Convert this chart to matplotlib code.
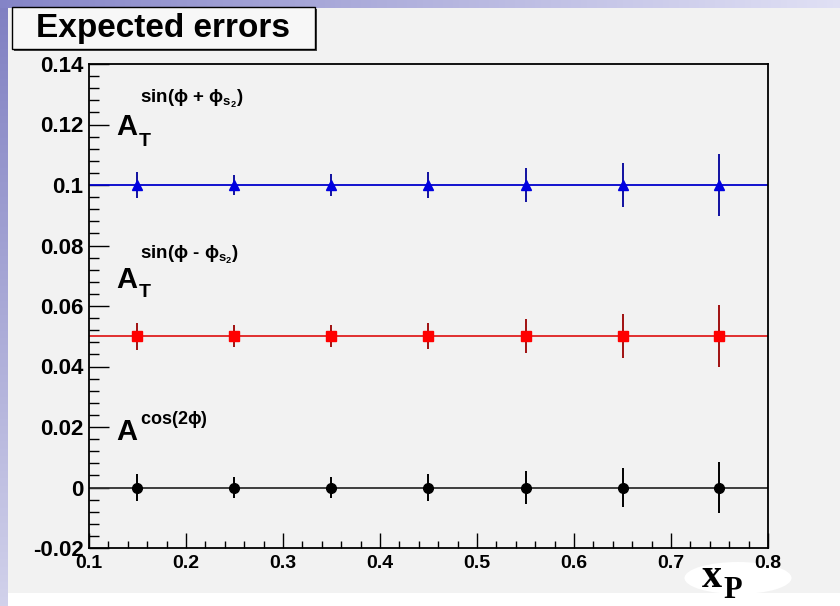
import numpy as np
import matplotlib
matplotlib.use("Agg")
import matplotlib.pyplot as plt
from matplotlib.ticker import MultipleLocator, FuncFormatter
from matplotlib.patches import Rectangle, Ellipse

# x_P bin centres
x_p = [0.15, 0.25, 0.35, 0.45, 0.55, 0.65, 0.75]

# asymmetry values and expected statistical errors
a_sin_plus = [0.1, 0.1, 0.1, 0.1, 0.1, 0.1, 0.1]
err_sin_plus = [0.0044, 0.0033, 0.0036, 0.0043, 0.0057, 0.0073, 0.0103]

a_sin_minus = [0.05, 0.05, 0.05, 0.05, 0.05, 0.05, 0.05]
err_sin_minus = [0.0045, 0.0036, 0.0037, 0.0043, 0.0056, 0.0073, 0.0102]

a_cos2 = [0.0, 0.0, 0.0, 0.0, 0.0, 0.0, 0.0]
err_cos2 = [0.0045, 0.0035, 0.0036, 0.0044, 0.0053, 0.0066, 0.0085]

W, H = 840, 606
plt.rcParams['font.family'] = ['Liberation Sans', 'DejaVu Sans']
plt.rcParams['mathtext.fontset'] = 'custom'
plt.rcParams['mathtext.rm'] = 'Liberation Sans:bold'
plt.rcParams['mathtext.it'] = 'Liberation Sans:bold'
plt.rcParams['mathtext.bf'] = 'Liberation Sans:bold'

fig = plt.figure(figsize=(W / 100, H / 100), dpi=100)
fig.patch.set_facecolor('white')

def fx(px):
    return px / W

def fy(py):
    return 1 - py / H

# canvas background and slide border strips
fig.patches.append(Rectangle((0, fy(593)), 1, fy(0) - fy(593), transform=fig.transFigure,
                             facecolor='#f2f2f2', edgecolor='none', zorder=-10))
left_strip = fig.add_axes([0, 0, fx(8), 1], zorder=-5)
grad_v = np.linspace(0, 1, 256).reshape(-1, 1)
c_top = np.array([0.50, 0.50, 0.76])
c_bot = np.array([0.82, 0.82, 0.92])
left_strip.imshow(c_top + (c_bot - c_top) * grad_v[:, :, None], aspect='auto')
left_strip.axis('off')
top_strip = fig.add_axes([0, fy(8), 1, 8 / H], zorder=-5)
grad_h = np.linspace(0, 1, 256).reshape(1, -1)
c_left = np.array([0.52, 0.52, 0.78])
c_right = np.array([0.88, 0.88, 0.96])
top_strip.imshow(c_left + (c_right - c_left) * grad_h[:, :, None], aspect='auto')
top_strip.axis('off')

# white blob behind the x-axis title, kept under the tick labels
fig.patches.append(Ellipse((fx(738), fy(578)), 107 / W, 32 / H, transform=fig.transFigure,
                           facecolor='white', edgecolor='none', zorder=-4))

ax = fig.add_axes([fx(89), fy(548), fx(768) - fx(89), fy(64) - fy(548)])
ax.set_facecolor('#f2f2f2')

# fitted constant levels
ax.axhline(0.1, color='#0000cc', lw=1.3, zorder=2)
ax.axhline(0.05, color='#e02020', lw=1.3, zorder=2)
ax.axhline(0.0, color='#303030', lw=1.3, zorder=2)

ax.errorbar(x_p, a_sin_plus, yerr=err_sin_plus, fmt='^', color='#0000e0', ecolor='#1010a0',
            ms=7, elinewidth=1.4, capsize=0, zorder=3)
ax.errorbar(x_p, a_sin_minus, yerr=err_sin_minus, fmt='s', color='#ff0000', ecolor='#a01010',
            ms=7, elinewidth=1.4, capsize=0, zorder=3)
ax.errorbar(x_p, a_cos2, yerr=err_cos2, fmt='o', color='black', ecolor='black',
            ms=7, elinewidth=1.4, capsize=0, zorder=3)

ax.set_xlim(0.1, 0.8)
ax.set_ylim(-0.02, 0.14)
ax.xaxis.set_major_locator(MultipleLocator(0.1))
ax.xaxis.set_minor_locator(MultipleLocator(0.02))
ax.yaxis.set_major_locator(MultipleLocator(0.02))
ax.yaxis.set_minor_locator(MultipleLocator(0.004))
ax.xaxis.set_major_formatter(FuncFormatter(lambda v, p: '%g' % round(v, 4)))
ax.yaxis.set_major_formatter(FuncFormatter(lambda v, p: '%g' % round(v, 4)))
ax.tick_params(axis='x', which='major', direction='in', length=10.8, width=1, pad=5,
               top=False)
ax.tick_params(axis='x', which='minor', direction='in', length=5.4, width=1, top=False)
ax.tick_params(axis='y', which='major', direction='in', length=14.4, width=1, pad=4,
               right=False)
ax.tick_params(axis='y', which='minor', direction='in', length=7.2, width=1, right=False)
for lab in ax.get_yticklabels():
    lab.set_fontsize(16)
    lab.set_fontweight('bold')
for lab in ax.get_xticklabels():
    lab.set_fontsize(14)
    lab.set_fontweight('bold')
for sp in ax.spines.values():
    sp.set_linewidth(1.3)

# asymmetry labels
big = dict(fontsize=21, fontweight='bold', color='black')
sub = dict(fontsize=14, fontweight='bold', color='black')
sup = dict(fontsize=13.5, fontweight='bold', color='black')
ax.text(0.1285, 0.1165, 'A', **big)
ax.text(0.1510, 0.1128, 'T', **sub)
ax.text(0.1526, 0.1272, r'sin($\phi$ + $\phi_{s_2}$)', **sup)

ax.text(0.1285, 0.0660, 'A', **big)
ax.text(0.1510, 0.0630, 'T', **sub)
ax.text(0.1526, 0.0756, r'sin($\phi$ - $\phi_{s_2}$)', **sup)

ax.text(0.1285, 0.0157, 'A', **big)
ax.text(0.1526, 0.0209, r'cos(2$\phi$)', fontsize=13, fontweight='bold')

# title box with shadow
fig.patches.append(Rectangle((fx(14), fy(51)), fx(315) - fx(12), fy(7) - fy(49),
                             transform=fig.transFigure, facecolor='#444444',
                             edgecolor='none', zorder=5))
fig.patches.append(Rectangle((fx(12), fy(49)), fx(315) - fx(12), fy(7) - fy(49),
                             transform=fig.transFigure, facecolor='#f7f7f7',
                             edgecolor='black', lw=1.0, zorder=6))
fig.text(fx(163), fy(29), 'Expected errors', fontsize=24, fontweight='bold',
         ha='center', va='center', zorder=7)

# x-axis title
fig.text(fx(702), fy(587), 'x', fontsize=29, fontweight='bold',
         family=['Liberation Serif', 'DejaVu Serif'], va='baseline', zorder=7)
fig.text(fx(723), fy(598), 'P', fontsize=22, fontweight='bold',
         family=['Liberation Serif', 'DejaVu Serif'], va='baseline', zorder=7)

fig.savefig('out.png', dpi=100, facecolor=fig.get_facecolor())
